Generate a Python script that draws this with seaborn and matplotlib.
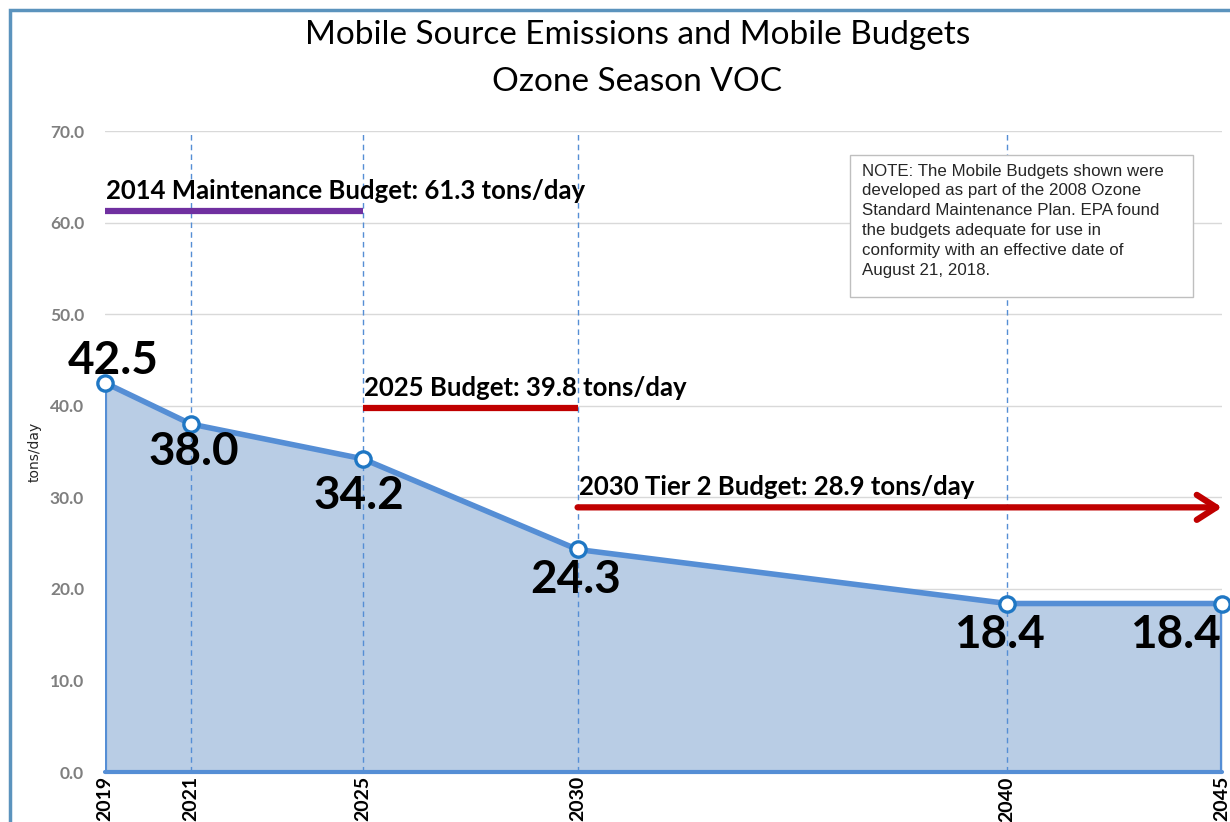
import matplotlib
matplotlib.use("Agg")
import matplotlib.pyplot as plt
import seaborn as sns
import pandas as pd
from matplotlib.patches import Rectangle

# data
years = [2019, 2021, 2025, 2030, 2040, 2045]
emissions = [42.5, 38.0, 34.2, 24.3, 18.4, 18.4]

budget_names = ["2014 Maintenance Budget: 61.3 tons/day",
                "2025 Budget: 39.8 tons/day",
                "2030 Tier 2 Budget: 28.9 tons/day"]
budget_values = [61.3, 39.8, 28.9]
budget_start = [2019, 2025, 2030]
budget_end = [2025, 2030, 2045]

note = ("NOTE: The Mobile Budgets shown were\n"
        "developed as part of the 2008 Ozone\n"
        "Standard Maintenance Plan. EPA found\n"
        "the budgets adequate for use in\n"
        "conformity with an effective date of\n"
        "August 21, 2018.")

df = pd.DataFrame({"year": years, "tons": emissions})

sns.set_style("white")
plt.rcParams["font.family"] = ["Lato", "DejaVu Sans"]
plt.rcParams["text.color"] = "black"

fig = plt.figure(figsize=(12.3, 8.22), dpi=100)
ax = fig.add_axes([105 / 1230, 50 / 822, 1117 / 1230, 641 / 822])

line_blue = "#558ED5"
fill_blue = "#B9CDE5"

ax.fill_between(df["year"], df["tons"], 0, color=fill_blue, zorder=1, lw=0)
# edges of the filled area
ax.plot([2019, 2019], [0, emissions[0]], color=line_blue, lw=3, zorder=2)
ax.plot([2045, 2045], [0, emissions[-1]], color=line_blue, lw=3, zorder=2)
ax.plot([2019, 2045], [0, 0], color=line_blue, lw=3, zorder=2, clip_on=False)

sns.lineplot(data=df, x="year", y="tons", ax=ax, color=line_blue, lw=4,
             marker="o", markersize=11, markerfacecolor="white",
             markeredgecolor="#1F77C4", markeredgewidth=2.4, zorder=5, clip_on=False)

# grid
for y in range(10, 71, 10):
    ax.axhline(y, color="#D9D9D9", lw=1, zorder=0)
for x in years[1:-1]:
    ax.axvline(x, color=line_blue, lw=1, ls=(0, (4, 3)), zorder=3)

ax.set_xlim(2019, 2045)
ax.set_ylim(0, 70)
ax.set_xticks(years)
ax.set_xticklabels([str(y) for y in years], rotation=90, fontweight="bold",
                   fontsize=14, color="black")
ax.set_yticks(range(0, 71, 10))
ax.set_yticklabels([f"{v:.1f}" for v in range(0, 71, 10)], fontweight="bold",
                   fontsize=12.5, color="#7F7F7F")
ax.tick_params(axis="x", length=0, pad=3)
ax.tick_params(axis="y", length=0, pad=15)
ax.set_xlabel("")
ax.set_ylabel("tons/day", fontsize=10, family="DejaVu Sans")
ax.yaxis.set_label_coords(-0.0564, 0.5)
for s in ax.spines.values():
    s.set_visible(False)

# data labels
label_offsets = [(8, 22), (3, -28), (-4, -37), (-2, -31), (-8, -31), (-47, -31)]
for x, y, off in zip(years, emissions, label_offsets):
    ax.annotate(f"{y:.1f}", (x, y), xytext=off, textcoords="offset pixels",
                ha="center", va="center", fontsize=33, fontweight="bold",
                color="black", zorder=6)

# budgets
budget_colors = ["#7030A0", "#C00000", "#C00000"]
for name, val, x0, x1, c in zip(budget_names, budget_values, budget_start,
                                budget_end, budget_colors):
    if x1 == 2045:
        ax.annotate("", xy=(x1, val), xytext=(x0, val),
                    arrowprops=dict(arrowstyle="->,head_length=1.4,head_width=0.9",
                                    color=c, lw=4.5, shrinkA=0, shrinkB=0),
                    zorder=4, annotation_clip=False)
    else:
        ax.plot([x0, x1], [val, val], color=c, lw=4.5, solid_capstyle="butt",
                zorder=4)
    ax.annotate(name, (x0, val), xytext=(1, 8), textcoords="offset pixels",
                ha="left", va="bottom", fontsize=18.5, fontweight="bold",
                color="black", zorder=6)

# note box
ax.add_patch(Rectangle((0.667, 0.741), 0.307, 0.2216, transform=ax.transAxes,
                       fc="white", ec="#BFBFBF", lw=1, zorder=7))
ax.text(0.6777, 0.949, note, transform=ax.transAxes, ha="left", va="top",
        fontsize=12.2, family="Liberation Sans", color="#262626",
        linespacing=1.4, zorder=8)

fig.text(0.518, 0.957, "Mobile Source Emissions and Mobile Budgets",
         ha="center", va="center", fontsize=24)
fig.text(0.518, 0.9, "Ozone Season VOC", ha="center", va="center",
         fontsize=24)

# outer chart border
fig.patches.append(Rectangle((10 / 1230, -0.1), 1.2, (812 / 822) + 0.1,
                             transform=fig.transFigure, fill=False,
                             ec="#5B93BD", lw=2.5))

fig.savefig("out.png", dpi=100)
